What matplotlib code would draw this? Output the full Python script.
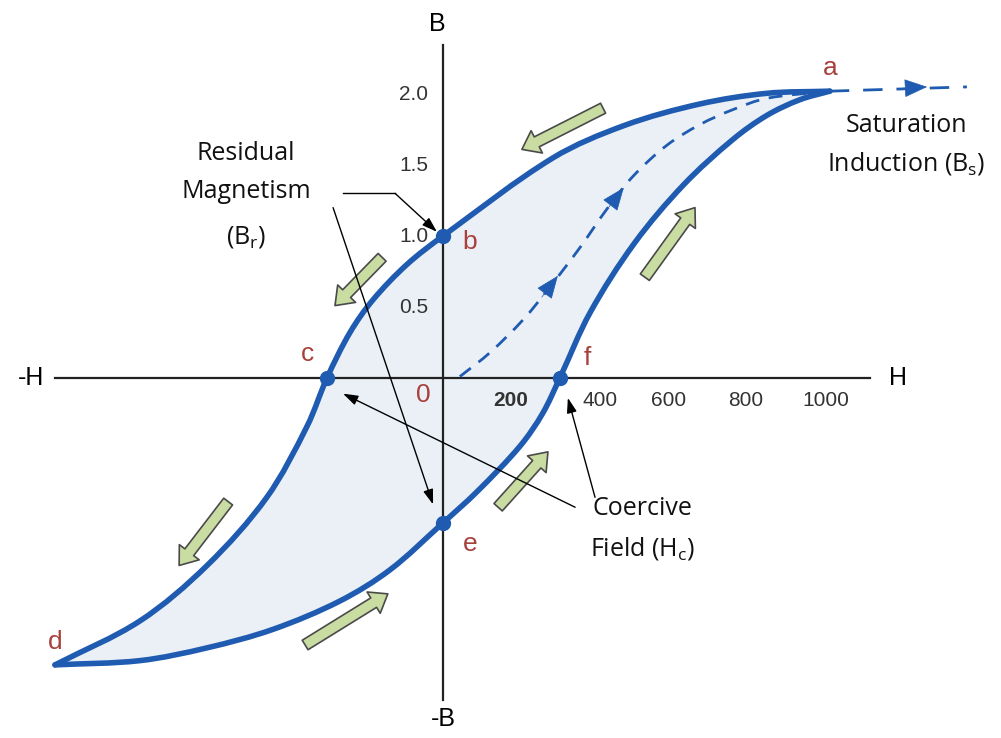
import matplotlib
matplotlib.use('Agg')
import matplotlib.pyplot as plt
import numpy as np
from matplotlib.path import Path
from matplotlib.patches import PathPatch

# ---- values (H horizontal, B vertical) ----
# upper (descending) branch a -> b -> c -> d
upper_H = [1010, 846, 671, 475, 287, 0, -94, -183, -243, -303, -355, -460, -616, -791, -1013]
upper_B = [2.02, 2.005, 1.93, 1.78, 1.55, 1.00, 0.80, 0.55, 0.32, 0.00, -0.34, -0.84, -1.32, -1.71, -2.02]
# lower (ascending) branch d -> e -> f -> a
lower_H = [-1013, -791, -616, -444, -269, -138, 0, 89, 201, 260, 305,
           384, 500, 628, 757, 846, 932, 1010]
lower_B = [-2.02, -1.99, -1.90, -1.77, -1.57, -1.35, -1.02, -0.80, -0.48, -0.25, 0.00,
           0.46, 0.95, 1.36, 1.68, 1.85, 1.96, 2.02]
# initial magnetisation curve (dashed)
init_H = [44, 123, 209, 279, 358, 428, 496, 585, 671, 757, 846, 1010]
init_B = [0.01, 0.18, 0.41, 0.64, 0.92, 1.19, 1.42, 1.64, 1.785, 1.89, 1.97, 2.02]
ext_H = [1010, 1368]
ext_B = [2.02, 2.05]

# labelled points
pt_names = ['a', 'b', 'c', 'd', 'e', 'f']
pt_H = [1010, 0, -303, -1013, 0, 305]
pt_B = [2.02, 1.00, 0.00, -2.02, -1.02, 0.00]
dot_names = ['b', 'c', 'e', 'f']

h_ticks = [200, 400, 600, 800, 1000]
b_ticks = [0.5, 1.0, 1.5, 2.0]

# green direction arrows (tail H, tail B, head H, head B)
flow_arrows = [
    (418, 1.90, 206, 1.61),
    (-159, 0.85, -282, 0.51),
    (-561, -0.87, -689, -1.32),
    (-360, -1.88, -144, -1.52),
    (144, -0.91, 274, -0.52),
    (527, 0.71, 658, 1.20),
]
# small blue arrows on the dashed curve (tail H, tail B, tip H, tip B)
dash_arrows = [
    (258, 0.57, 300, 0.72),
    (432, 1.20, 472, 1.34),
    (1200, 2.04, 1264, 2.05),
]

BLUE = '#1f5bb0'
RED = '#a8403c'
GREEN = '#c9dca2'

# rough pixel size of one data unit, only used to keep the curve smoothing isotropic
PX_H, PX_B = 0.383, 142.0


def smooth_path(xs, ys):
    # bezier through the read points, tangent = direction of neighbours
    p = np.column_stack([np.asarray(xs) * PX_H, np.asarray(ys) * PX_B]).astype(float)
    n = len(p)
    tan = np.zeros_like(p)
    for i in range(n):
        d = p[min(i + 1, n - 1)] - p[max(i - 1, 0)]
        tan[i] = d / np.hypot(*d)
    verts = [p[0]]
    codes = [Path.MOVETO]
    for i in range(n - 1):
        L = np.hypot(*(p[i + 1] - p[i])) / 3.0
        verts += [p[i] + tan[i] * L, p[i + 1] - tan[i + 1] * L, p[i + 1]]
        codes += [Path.CURVE4] * 3
    verts = [(v[0] / PX_H, v[1] / PX_B) for v in verts]
    return verts, codes


fig = plt.figure(figsize=(10.01, 7.38), dpi=100)
ax = fig.add_axes([0, 0, 1, 1])
ax.set_xlim(-1156.7, 1457)
ax.set_ylim(-2.535, 2.662)
ax.axis('off')

# shaded loop
vu, cu = smooth_path(upper_H, upper_B)
vl, cl = smooth_path(lower_H, lower_B)
loop_verts = vu + vl[1:] + [vu[0]]
loop_codes = cu + cl[1:] + [Path.CLOSEPOLY]
ax.add_patch(PathPatch(Path(loop_verts, loop_codes), fc='#eaf0f6', ec='none', zorder=1))

# axes
ax.plot([-1013, 1115], [0, 0], color='#222222', lw=1.6, zorder=2)
ax.plot([0, 0], [-2.27, 2.345], color='#222222', lw=1.6, zorder=2)

# loop branches
ax.add_patch(PathPatch(Path(vu, cu), fc='none', ec=BLUE, lw=4, capstyle='round', zorder=4))
ax.add_patch(PathPatch(Path(vl, cl), fc='none', ec=BLUE, lw=4, capstyle='round', zorder=4))

# initial curve
vi, ci = smooth_path(init_H, init_B)
ax.add_patch(PathPatch(Path(vi, ci), fc='none', ec=BLUE, lw=2, ls=(0, (5, 3.5)), zorder=3))
ax.plot(ext_H, ext_B, color=BLUE, lw=2, ls=(0, (7, 5)), zorder=3)

for (t_h, t_b, h_h, h_b) in dash_arrows:
    ax.annotate('', xy=(h_h, h_b), xytext=(t_h, t_b),
                arrowprops=dict(arrowstyle='-|>,head_length=0.75,head_width=0.3',
                                mutation_scale=20, color=BLUE, lw=0.5,
                                shrinkA=0, shrinkB=0), zorder=5)

# dots
for name, h, b in zip(pt_names, pt_H, pt_B):
    if name in dot_names:
        ax.plot(h, b, 'o', color=BLUE, ms=10, zorder=6)

# green flow arrows
for (t_h, t_b, h_h, h_b) in flow_arrows:
    ax.annotate('', xy=(h_h, h_b), xytext=(t_h, t_b),
                arrowprops=dict(arrowstyle='simple,head_length=12,head_width=18,tail_width=8',
                                mutation_scale=1, fc=GREEN, ec='#4a4a4a', lw=1.2,
                                shrinkA=0, shrinkB=0), zorder=7)

# black pointer arrows
blk = dict(arrowstyle='-|>,head_length=0.9,head_width=0.3', color='black', lw=1.0,
           shrinkA=0, shrinkB=0)
ax.plot([-261, -125], [1.30, 1.30], color='black', lw=1.0, zorder=8)
ax.annotate('', xy=(-16, 1.03), xytext=(-125, 1.30), arrowprops=blk, zorder=8)
ax.annotate('', xy=(-26, -0.89), xytext=(-287, 1.20), arrowprops=blk, zorder=8)
ax.annotate('', xy=(-261, -0.11), xytext=(345, -0.91), arrowprops=blk, zorder=8)
ax.annotate('', xy=(326, -0.14), xytext=(397, -0.84), arrowprops=blk, zorder=8)

# point letters
letter_off = {'a': (0, 0.16), 'b': (70, -0.04), 'c': (-50, 0.17), 'd': (0, 0.16),
              'e': (70, -0.15), 'f': (72, 0.14)}
for name, h, b in zip(pt_names, pt_H, pt_B):
    dx, db = letter_off[name]
    ax.text(h + dx, b + db, name, color=RED, fontsize=19, family='Liberation Sans',
            ha='center', va='center', zorder=9)
ax.text(-52, -0.12, '0', color=RED, fontsize=19, family='Liberation Sans',
        ha='center', va='center', zorder=9)

# tick labels
tick_nudge = {200: -22, 400: 10, 600: -12, 800: -10, 1000: 0}
for t in h_ticks:
    ax.text(t + tick_nudge[t], -0.16, str(t), fontsize=15, color='#333333',
            family='Liberation Sans', fontweight='bold' if t == 200 else 'normal',
            ha='center', va='center', zorder=9)
for t in b_ticks:
    ax.text(-38, t, f'{t:.1f}', fontsize=15, color='#333333', family='Liberation Sans',
            ha='right', va='center', zorder=9)

# axis names
ax.text(-15, 2.49, 'B', fontsize=18, family='Liberation Sans', ha='center', va='center')
ax.text(0, -2.40, '-B', fontsize=18, family='Liberation Sans', ha='center', va='center')
ax.text(-1076, 0, '-H', fontsize=18, family='Liberation Sans', ha='center', va='center')
ax.text(1188, 0, 'H', fontsize=18, family='Liberation Sans', ha='center', va='center')

# annotations
note = dict(fontsize=18, family='Open Sans', ha='center', va='center', color='#111111')
ax.text(-514, 1.584, 'Residual', **note)
ax.text(-514, 1.31, 'Magnetism', **note)
ax.text(-514, 0.99, r'(B$_\mathregular{r}$)', **note)
ax.text(1210, 1.780, 'Saturation', **note)
ax.text(1210, 1.510, r'Induction (B$_\mathregular{s}$)', **note)
ax.text(520, -0.92, 'Coercive', **note)
ax.text(520, -1.20, r'Field (H$_\mathregular{c}$)', **note)

fig.savefig('out.png', dpi=100)
